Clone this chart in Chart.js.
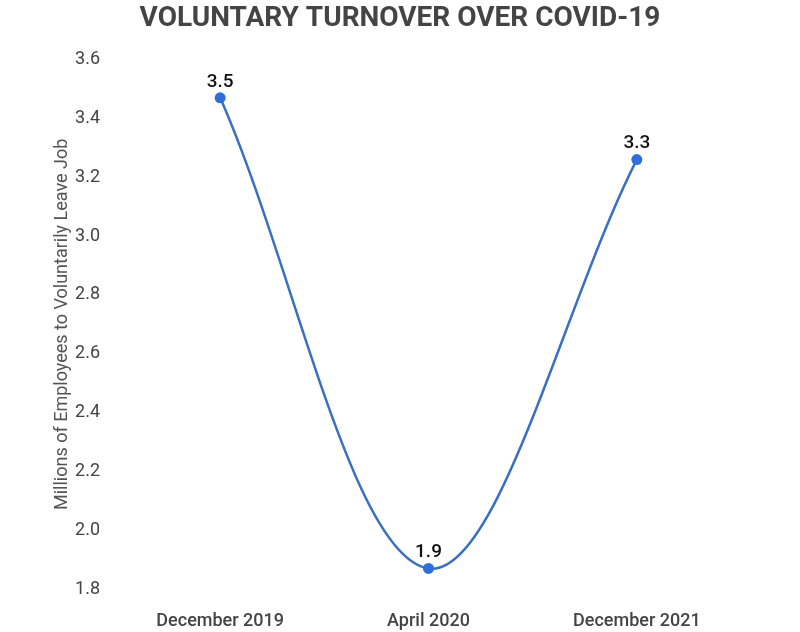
<!DOCTYPE html>
<html>
<head>
<meta charset="utf-8">
<script src="https://cdn.jsdelivr.net/npm/chart.js@4"></script>
<style>
  html, body { margin: 0; padding: 0; background: #fff; }
  #wrap { width: 800px; height: 632px; }
</style>
</head>
<body>
<div id="wrap"><canvas id="chart"></canvas></div>
<script>
const categories = ["December 2019", "April 2020", "December 2021"];
const turnover = [3.47, 1.87, 3.26];
const yTicks = [1.8, 2.0, 2.2, 2.4, 2.6, 2.8, 3.0, 3.2, 3.4, 3.6];

// simple value labels above each point
const pointLabels = {
  id: "pointLabels",
  afterDatasetsDraw(chart) {
    const ctx = chart.ctx;
    const meta = chart.getDatasetMeta(0);
    ctx.save();
    ctx.font = "500 19px Roboto";
    ctx.fillStyle = "#111";
    ctx.textAlign = "center";
    ctx.textBaseline = "middle";
    meta.data.forEach((pt, i) => {
      ctx.fillText(turnover[i].toFixed(1), pt.x, pt.y - 16);
    });
    ctx.restore();
  },
};

new Chart(document.getElementById("chart"), {
  type: "line",
  data: {
    labels: categories,
    datasets: [
      {
        data: turnover,
        borderColor: "#3b6fc2",
        borderWidth: 2.5,
        tension: 0.35,
        pointRadius: 5.5,
        pointHoverRadius: 5.5,
        pointBackgroundColor: "#2f6fdc",
        pointBorderWidth: 0,
      },
    ],
  },
  options: {
    responsive: true,
    maintainAspectRatio: false,
    animation: false,
    layout: { padding: 0 },
    plugins: {
      legend: { display: false },
      tooltip: { enabled: false },
      title: {
        display: true,
        text: "VOLUNTARY TURNOVER OVER COVID-19",
        color: "#444",
        font: { family: "Roboto", size: 28, weight: "bold" },
        padding: { top: 2, bottom: 24 },
      },
    },
    scales: {
      x: {
        offset: true,
        grid: { display: false },
        border: { display: false },
        ticks: {
          color: "#444",
          font: { family: "Roboto", size: 18, weight: "500" },
          padding: 14,
        },
        afterFit(scale) { scale.height = 43; },
      },
      y: {
        min: 1.8,
        max: 3.6,
        grid: { display: false },
        border: { display: false },
        afterBuildTicks(scale) {
          scale.ticks = yTicks.map((v) => ({ value: v }));
        },
        ticks: {
          color: "#444",
          font: { family: "Roboto", size: 18 },
          padding: 8,
          callback: (v) => v.toFixed(1),
        },
        title: {
          display: true,
          text: "Millions of Employees to Voluntarily Leave Job",
          color: "#555",
          font: { family: "Roboto", size: 18 },
          padding: { top: 52, bottom: 0 },
        },
        afterFit(scale) { scale.width = 116; },
      },
      // empty right axis, only reserves the right margin
      yRight: {
        position: "right",
        min: 1.8,
        max: 3.6,
        grid: { display: false },
        border: { display: false },
        ticks: { display: false },
        afterFit(scale) { scale.width = 59; },
      },
    },
  },
  plugins: [pointLabels],
});
</script>
</body>
</html>
